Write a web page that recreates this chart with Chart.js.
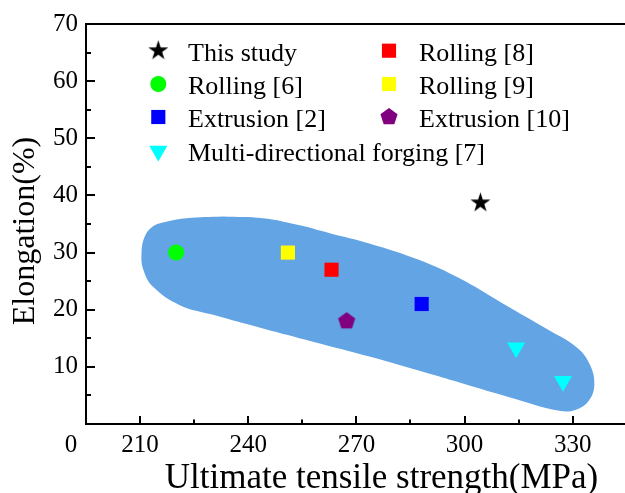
<!DOCTYPE html>
<html><head><meta charset="utf-8">
<script src="https://cdn.jsdelivr.net/npm/chart.js@4/dist/chart.umd.min.js"></script>
<style>html,body{margin:0;padding:0;background:#fff;overflow:hidden}#wrap{width:625px;height:493px;position:relative}</style>
</head><body><div id="wrap"><canvas id="c" width="625" height="493"></canvas></div>
<script>
// ---- data ----
const xTickLabels = [210, 240, 270, 300, 330];
const xMinorTicks = [225, 255, 285, 315];
const yTickLabels = [10, 20, 30, 40, 50, 60, 70];
const yMinorTicks = [5, 15, 25, 35, 45, 55, 65];
const seriesNames = ['This study', 'Rolling [6]', 'Extrusion [2]', 'Multi-directional forging [7]', 'Rolling [8]', 'Rolling [9]', 'Extrusion [10]'];
const thisStudyX = [304.4], thisStudyY = [38.7];
const rolling6X = [220.0], rolling6Y = [30.0];
const extrusion2X = [288.1], extrusion2Y = [21.0];
const forging7X = [314.3, 327.3], forging7Y = [13.35, 7.5];
const rolling8X = [263.1], rolling8Y = [27.0];
const rolling9X = [251.0], rolling9Y = [30.0];
const extrusion10X = [267.3], extrusion10Y = [18.0];
// shaded region outline (UTS, elongation)
const regionX = [233.0,244.1,253.3,262.6,273.6,287.5,298.6,310.6,322.6,330.9,334.6,336.0,334.6,330.9,326.3,312.4,299.5,290.3,273.6,257.9,244.1,230.3,221.0,213.6,210.9,210.4,211.3,213.6,217.3,222.9,233.0];
const regionY = [36.3,36.0,34.9,33.4,31.6,28.7,25.5,21.1,16.7,13.5,10.6,7.1,4.2,2.5,2.3,4.7,7.1,8.8,11.8,14.4,16.7,19.1,20.8,24.0,27.0,29.9,32.8,34.6,35.4,36.0,36.3];

const SERIF = "'Liberation Serif','Times New Roman',serif";
function pts(xs, ys){ return xs.map((x,i)=>({x:x, y:ys[i]})); }
function makeStar(R, color){
  const s = Math.ceil(2*R+2); const c = document.createElement('canvas'); c.width = c.height = s;
  const g = c.getContext('2d'); g.fillStyle = color; g.beginPath();
  const r = R*0.382;
  for (let i=0;i<10;i++){ const a=-Math.PI/2+i*Math.PI/5; const rr=(i%2)?r:R; g.lineTo(s/2+rr*Math.cos(a), s/2+rr*Math.sin(a)); }
  g.closePath(); g.fill(); return c;
}
function makePentagon(R, color){
  const s = Math.ceil(2*R+2); const c = document.createElement('canvas'); c.width = c.height = s;
  const g = c.getContext('2d'); g.fillStyle = color; g.beginPath();
  for (let i=0;i<5;i++){ const a=-Math.PI/2+i*2*Math.PI/5; g.lineTo(s/2+R*Math.cos(a), s/2+R*Math.sin(a)); }
  g.closePath(); g.fill(); return c;
}
const starImg = makeStar(10.5, '#000000');
const pentImg = makePentagon(9, '#800080');

function mk(label, xs, ys, style, color, radius, rotation){
  return {label, data: pts(xs, ys), pointStyle: style, backgroundColor: color, borderColor: color,
    pointBackgroundColor: color, pointBorderWidth: 0, pointRadius: radius, pointHoverRadius: radius,
    pointRotation: rotation || 0, showLine: false};
}
const datasets = [
  mk(seriesNames[0], thisStudyX, thisStudyY, starImg, '#000000', 10),
  mk(seriesNames[1], rolling6X, rolling6Y, 'circle', '#00ff00', 8),
  mk(seriesNames[2], extrusion2X, extrusion2Y, 'rect', '#0000ff', 10),
  mk(seriesNames[3], forging7X, forging7Y, 'triangle', '#00ffff', 10.5, 180),
  mk(seriesNames[4], rolling8X, rolling8Y, 'rect', '#ff0000', 10),
  mk(seriesNames[5], rolling9X, rolling9Y, 'rect', '#ffff00', 10),
  mk(seriesNames[6], extrusion10X, extrusion10Y, pentImg, '#800080', 9),
  {type:'line', label:'region', data: pts(regionX, regionY), fill:'shape', backgroundColor:'#63a4e4',
   borderColor:'rgba(0,0,0,0)', borderWidth:0, pointRadius:0, pointHoverRadius:0, tension:0.4, order: 10}
];

const legendLayout = [
  {i:0, col:0, row:0}, {i:1, col:0, row:1}, {i:2, col:0, row:2}, {i:3, col:0, row:3},
  {i:4, col:1, row:0}, {i:5, col:1, row:1}, {i:6, col:1, row:2}
];

const decor = {
  id: 'decor',
  afterDatasetsDraw(chart){
    const ctx = chart.ctx, a = chart.chartArea, xs = chart.scales.x, ys = chart.scales.y;
    ctx.save();
    ctx.strokeStyle = '#000'; ctx.lineWidth = 2;
    // top frame line
    ctx.beginPath(); ctx.moveTo(a.left-1, a.top); ctx.lineTo(a.right, a.top); ctx.stroke();
    // inward ticks
    ctx.beginPath();
    xTickLabels.forEach(v=>{ const p=Math.round(xs.getPixelForValue(v)); ctx.moveTo(p, a.bottom); ctx.lineTo(p, a.bottom-8); });
    xMinorTicks.forEach(v=>{ const p=Math.round(xs.getPixelForValue(v)); ctx.moveTo(p, a.bottom); ctx.lineTo(p, a.bottom-4.5); });
    yTickLabels.forEach(v=>{ const p=Math.round(ys.getPixelForValue(v)); ctx.moveTo(a.left, p); ctx.lineTo(a.left+9, p); });
    yMinorTicks.forEach(v=>{ const p=Math.round(ys.getPixelForValue(v)); ctx.moveTo(a.left, p); ctx.lineTo(a.left+5, p); });
    ctx.stroke();
    // origin label
    ctx.fillStyle = '#000';
    ctx.font = '25px ' + SERIF; ctx.textAlign = 'center'; ctx.textBaseline = 'alphabetic';
    ctx.fillText('0', a.left - 15, 452);
    // axis titles
    ctx.font = '35px ' + SERIF; ctx.textAlign = 'center';
    ctx.fillText('Ultimate tensile strength(MPa)', 381.5, 488);
    ctx.save(); ctx.translate(34, 231); ctx.rotate(-Math.PI/2);
    ctx.font = '32px ' + SERIF; ctx.fillText('Elongation(%)', 0, 0); ctx.restore();
    // legend
    const colMarkX = [158.3, 389], colTextX = [188, 419], rowY = [50.7, 84, 117, 151];
    ctx.font = '26px ' + SERIF; ctx.textAlign = 'left'; ctx.textBaseline = 'alphabetic';
    legendLayout.forEach(L=>{
      const ds = chart.data.datasets[L.i];
      const mx = colMarkX[L.col], my = rowY[L.row];
      ctx.fillStyle = ds.backgroundColor;
      Chart.helpers.drawPoint(ctx, {pointStyle: ds.pointStyle, radius: ds.pointRadius, rotation: ds.pointRotation, borderWidth: 0}, mx, my);
      ctx.fillStyle = '#000';
      ctx.fillText(ds.label, colTextX[L.col], my + 10);
    });
    ctx.restore();
  }
};

new Chart(document.getElementById('c'), {
  type: 'scatter',
  data: { datasets },
  options: {
    responsive: false, animation: false, devicePixelRatio: 1,
    layout: { autoPadding: false, padding: { top: 24, right: 0, left: 0, bottom: 0 } },
    plugins: { legend: { display: false }, tooltip: { enabled: false } },
    scales: {
      x: {
        type: 'linear', min: 195, max: 344.5, position: 'bottom',
        afterBuildTicks: s => { s.ticks = xTickLabels.map(v => ({value: v})); },
        afterFit: s => { s.height = 69; s.paddingLeft = 0; s.paddingRight = 0; },
        grid: { display: false, drawTicks: false },
        border: { display: true, color: '#000', width: 2 },
        ticks: { color: '#000', font: { family: SERIF, size: 25 }, padding: 6, maxRotation: 0, autoSkip: false }
      },
      y: {
        type: 'linear', min: 0, max: 70,
        afterBuildTicks: s => { s.ticks = yTickLabels.map(v => ({value: v})); },
        afterFit: s => { s.width = 86; s.paddingTop = 0; s.paddingBottom = 0; },
        grid: { display: false, drawTicks: false },
        border: { display: true, color: '#000', width: 2 },
        ticks: { color: '#000', font: { family: SERIF, size: 25 }, padding: 8, autoSkip: false }
      }
    }
  },
  plugins: [decor]
});
</script></body></html>
